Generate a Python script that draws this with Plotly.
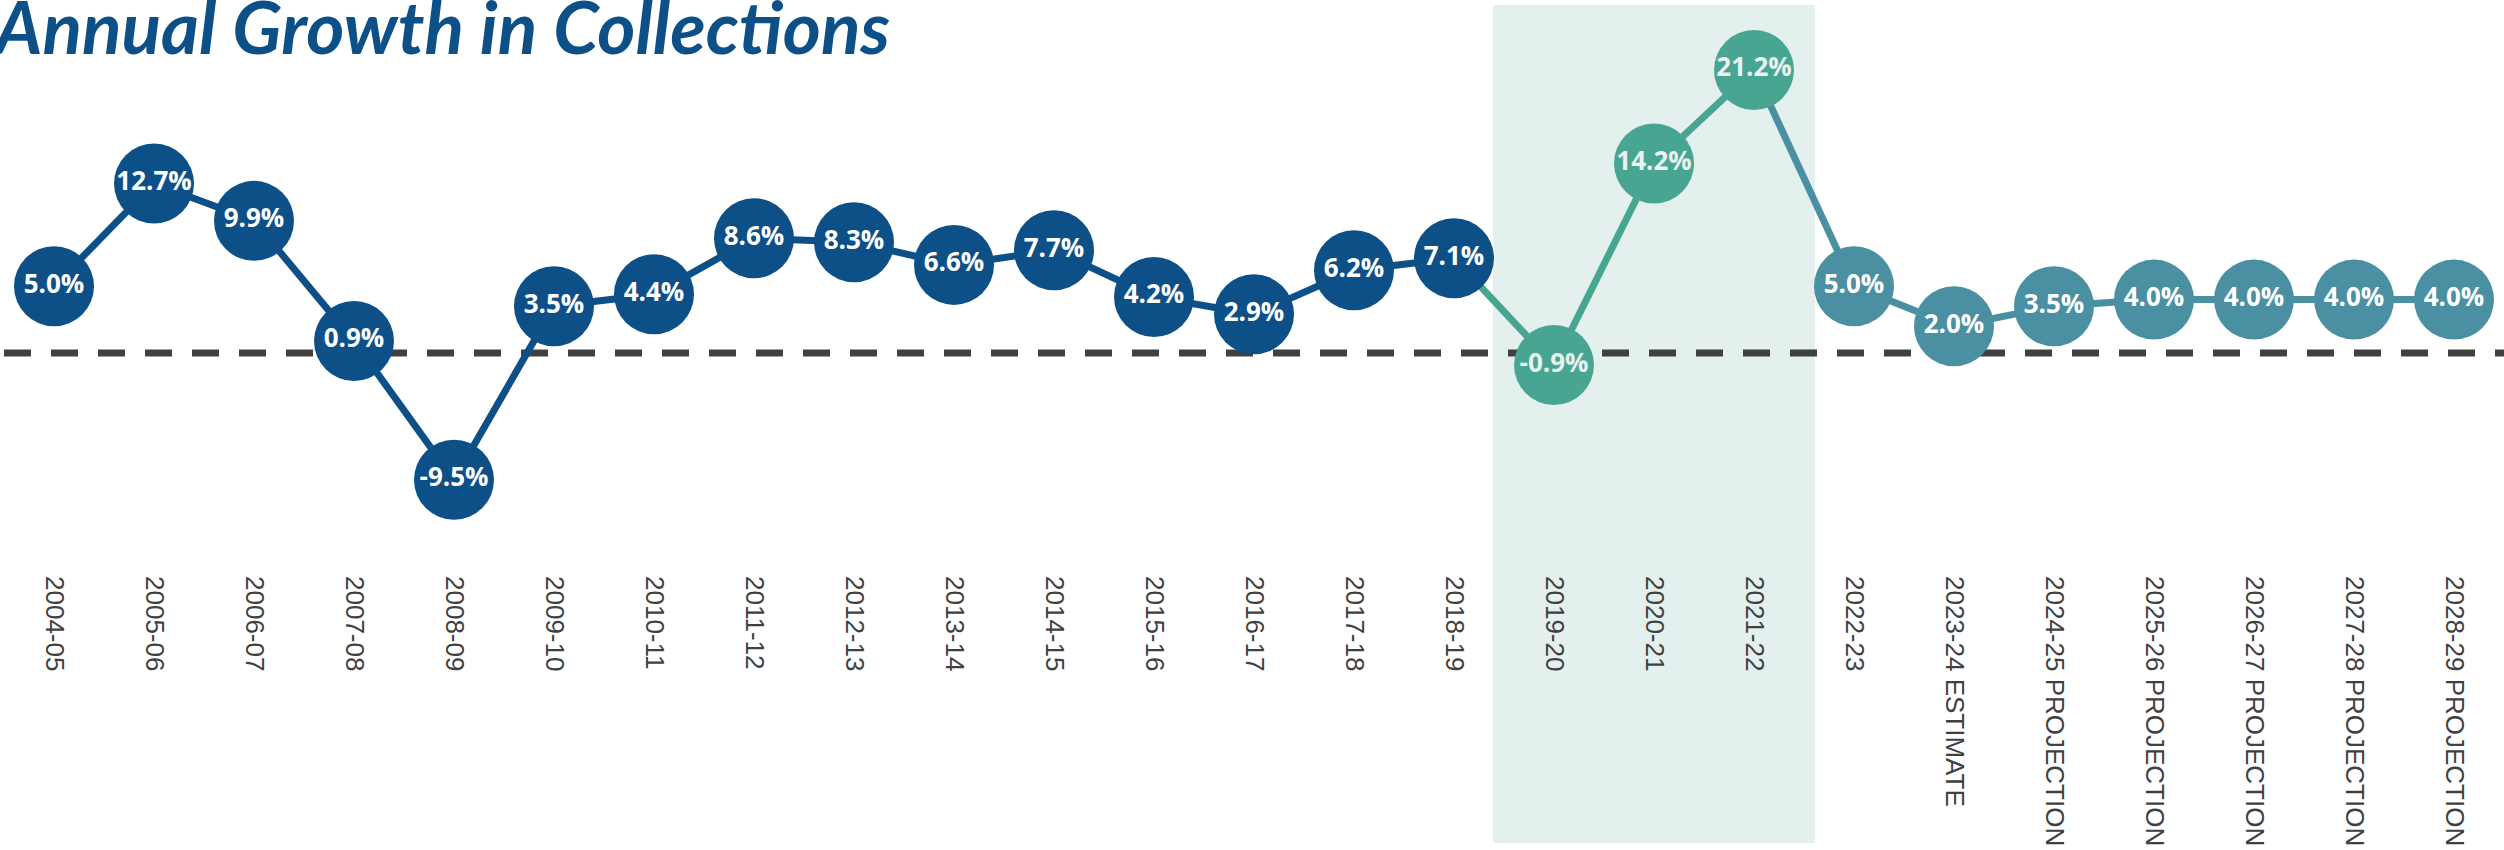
import plotly.graph_objects as go

categories = ["2004-05", "2005-06", "2006-07", "2007-08", "2008-09", "2009-10",
              "2010-11", "2011-12", "2012-13", "2013-14", "2014-15", "2015-16",
              "2016-17", "2017-18", "2018-19", "2019-20", "2020-21", "2021-22",
              "2022-23", "2023-24 ESTIMATE", "2024-25 PROJECTION", "2025-26 PROJECTION",
              "2026-27 PROJECTION", "2027-28 PROJECTION", "2028-29 PROJECTION"]
growth = [5.0, 12.7, 9.9, 0.9, -9.5, 3.5, 4.4, 8.6, 8.3, 6.6, 7.7, 4.2, 2.9, 6.2, 7.1,
          -0.9, 14.2, 21.2, 5.0, 2.0, 3.5, 4.0, 4.0, 4.0, 4.0]
# period group per point: historic, pandemic, recent/projection
group = ["hist"] * 15 + ["covid"] * 3 + ["proj"] * 7

BLUE = "#0d5088"
GREEN = "#47a592"
TEAL = "#4a90a2"
colors = {"hist": BLUE, "covid": GREEN, "proj": TEAL}
text_colors = {"hist": "#ffffff", "covid": "#e8f3f0", "proj": "#ffffff"}

W, H = 2504, 850
B = 566          # pixel of plot-area bottom
ZERO = 353       # pixel of zero line
PPU = 13.35      # pixels per percentage point

fig = go.Figure()

# line segments: each segment takes the colour of the point it leads to
seg_ranges = [(0, 15), (14, 18), (17, 25)]
seg_cols = [BLUE, GREEN, TEAL]
for (a, b), c in zip(seg_ranges, seg_cols):
    fig.add_trace(go.Scatter(x=categories[a:b], y=growth[a:b], mode="lines",
                             line=dict(color=c, width=7), hoverinfo="skip",
                             showlegend=False, cliponaxis=False))

fig.add_trace(go.Scatter(
    x=categories, y=growth, mode="markers+text",
    marker=dict(size=80, color=[colors[g] for g in group], line=dict(width=0)),
    text=[f"{v:.1f}%" for v in growth], textposition="middle center",
    textfont=dict(family="Open Sans", size=26, color=[text_colors[g] for g in group],
                  weight="bold"),
    showlegend=False, cliponaxis=False))

fig.add_shape(type="rect", xref="x", yref="paper", x0=14.39, x1=17.61,
              y0=(B - 843) / B, y1=(B - 5) / B, fillcolor="#e3f0ed",
              line=dict(width=0), layer="below")
fig.add_shape(type="line", xref="paper", yref="y", x0=4 / W, x1=1, y0=0, y1=0,
              line=dict(color="#404040", width=7, dash="27px,20px"), layer="below")

fig.add_annotation(text="<b><i>Annual Growth in Collections</i></b>", xref="paper",
                   yref="paper", x=-0.004, y=(B - 72) / B, xanchor="left",
                   yanchor="bottom", showarrow=False,
                   font=dict(family="Lato", size=73, color=BLUE))

fig.update_layout(
    width=W, height=H, margin=dict(l=0, r=0, t=0, b=H - B, pad=0),
    paper_bgcolor="white", plot_bgcolor="rgba(0,0,0,0)",
    xaxis=dict(type="category", range=[-0.54, 24.5], showgrid=False, zeroline=False,
               showline=False, ticks="", tickangle=90, automargin=False,
               ticklabelstandoff=9,
               tickfont=dict(family="Liberation Sans", size=26, color="#404040")),
    yaxis=dict(range=[-(B - ZERO) / PPU, ZERO / PPU], showgrid=False, zeroline=False,
               showticklabels=False, showline=False, automargin=False),
)

fig.write_html("out.html", config={"displayModeBar": False},
               post_script="document.body.style.margin='0';document.body.style.overflow='hidden';")
